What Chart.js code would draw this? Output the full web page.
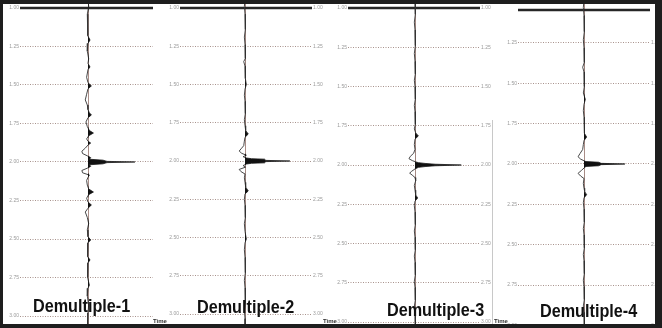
<!DOCTYPE html>
<html>
<head>
<meta charset="utf-8">
<script src="https://cdn.jsdelivr.net/npm/chart.js@4/dist/chart.umd.min.js"></script>
<style>
  html,body{margin:0;padding:0;background:#fff;}
  #wrap{position:relative;width:662px;height:328px;overflow:hidden;background:#fff;}
  canvas{position:absolute;top:0;}
  .ttl{position:absolute;font:bold 18px 'Liberation Sans',Arial,sans-serif;line-height:18px;color:#111;transform:scaleX(0.9);transform-origin:left top;white-space:nowrap;}
  .tm{position:absolute;font:bold 6px 'Liberation Sans',Arial,sans-serif;line-height:6px;color:#333;white-space:nowrap;}
  #frame{position:absolute;left:0;top:0;width:662px;height:328px;box-sizing:border-box;border-top:4px solid #1e1e1e;border-left:3px solid #1e1e1e;border-right:7px solid #1e1e1e;border-bottom:4px solid #1e1e1e;pointer-events:none;}
  #sep{position:absolute;left:492px;top:120px;width:1px;height:204px;background:#c8c8c8;}
</style>
</head>
<body>
<div id="wrap">
  <canvas id="c1"></canvas>
  <canvas id="c2"></canvas>
  <canvas id="c3"></canvas>
  <canvas id="c4"></canvas>
  <div id="sep"></div>
  <div class="ttl" id="t1"></div>
  <div class="ttl" id="t2"></div>
  <div class="ttl" id="t3"></div>
  <div class="ttl" id="t4"></div>
  <div class="tm" style="left:153px;top:318px">Time</div>
  <div class="tm" style="left:323px;top:318px">Time</div>
  <div class="tm" style="left:494px;top:318px">Time</div>
  <div id="frame"></div>
</div>
<script>
// ---------------- DATA ----------------
const panelNames = ['Demultiple-1', 'Demultiple-2', 'Demultiple-3', 'Demultiple-4'];
const tickTimes = [1.00, 1.25, 1.50, 1.75, 2.00, 2.25, 2.50, 2.75, 3.00];
const tickTimes4 = [1.25, 1.50, 1.75, 2.00, 2.25, 2.50, 2.75, 3.00];
const topLineTimes = [1.00, 1.00, 1.00, 1.045];

// [time (s), amplitude] pairs of each autocorrelation trace
const demult1 = [[0.94,0],[0.99,0.01],[1.04,-0.01],[1.09,0],[1.14,-0.01],[1.18,0],[1.208,0.03],[1.23,0],[1.28,-0.01],[1.33,0.01],[1.36,0],[1.383,0.03],[1.40,0],[1.45,-0.02],[1.485,0],[1.506,0.05],[1.525,0],[1.56,-0.02],[1.597,-0.04],[1.63,-0.01],[1.66,0],[1.68,0.02],[1.695,0.05],[1.712,0],[1.74,-0.03],[1.77,-0.01],[1.795,0.02],[1.812,0.08],[1.83,0.01],[1.85,-0.02],[1.865,0],[1.877,0.04],[1.89,0],[1.91,-0.04],[1.93,-0.09],[1.945,-0.08],[1.96,-0.01],[1.972,0.04],[1.982,0.02],[1.988,0.22],[1.996,0.28],[2.0,0.69],[2.004,0.28],[2.012,0.22],[2.018,0.02],[2.028,0.04],[2.04,-0.01],[2.055,-0.09],[2.07,-0.08],[2.085,0.02],[2.10,0],[2.12,-0.02],[2.15,-0.01],[2.175,0.01],[2.195,0.08],[2.212,0.01],[2.235,-0.02],[2.26,0],[2.279,0.05],[2.30,0],[2.325,-0.04],[2.36,-0.01],[2.40,0.01],[2.44,-0.01],[2.485,0],[2.506,0.04],[2.525,0],[2.57,-0.01],[2.615,0],[2.636,0.03],[2.655,0],[2.70,-0.01],[2.75,0],[2.80,0.02],[2.82,0],[2.87,-0.01],[2.93,0.01],[2.98,0],[3.03,-0.01],[3.08,0]];

const demult2 = [[0.94,0],[0.99,-0.01],[1.04,0],[1.09,0.01],[1.14,0],[1.19,-0.01],[1.24,0],[1.29,0.01],[1.33,0],[1.35,-0.02],[1.38,0],[1.42,0.01],[1.46,0],[1.50,0.02],[1.53,0],[1.57,-0.01],[1.61,0],[1.65,0.01],[1.69,0],[1.73,-0.01],[1.77,0],[1.80,0.01],[1.824,0.05],[1.845,0],[1.87,-0.01],[1.90,-0.02],[1.92,-0.06],[1.935,-0.09],[1.95,-0.05],[1.962,0.02],[1.972,-0.03],[1.98,0.02],[1.985,0.1],[1.988,0.3],[1.996,0.32],[2.0,0.69],[2.004,0.32],[2.012,0.3],[2.015,0.1],[2.02,0.02],[2.03,-0.03],[2.04,0.01],[2.055,-0.09],[2.07,-0.06],[2.085,0],[2.11,-0.01],[2.14,0],[2.17,0.01],[2.196,0.05],[2.215,0],[2.25,-0.01],[2.29,0],[2.33,0.01],[2.37,0],[2.41,-0.01],[2.46,0],[2.51,0.02],[2.535,0],[2.58,-0.01],[2.63,0],[2.68,0.01],[2.73,0],[2.78,-0.01],[2.83,0],[2.88,0.01],[2.93,0],[2.98,-0.01],[3.03,0],[3.09,0]];

const demult3 = [[0.94,0],[0.99,0.01],[1.04,0],[1.09,-0.01],[1.14,0],[1.19,0.01],[1.24,0],[1.29,-0.01],[1.34,0],[1.39,0.01],[1.42,0],[1.46,-0.01],[1.50,0],[1.54,0.01],[1.58,0],[1.62,-0.01],[1.66,0],[1.70,0.01],[1.74,0],[1.77,-0.01],[1.795,0.01],[1.815,0.05],[1.835,0],[1.87,-0.01],[1.90,0],[1.925,-0.02],[1.945,-0.07],[1.96,-0.09],[1.972,-0.04],[1.98,0.01],[1.985,0.05],[1.99,0.15],[1.995,0.3],[2.0,0.69],[2.005,0.3],[2.01,0.15],[2.015,0.05],[2.025,0],[2.04,-0.05],[2.052,-0.08],[2.065,-0.04],[2.08,0],[2.10,0.01],[2.13,-0.01],[2.16,0],[2.19,0.01],[2.21,0.04],[2.23,0],[2.26,-0.01],[2.30,0],[2.34,0.01],[2.38,0],[2.42,-0.01],[2.46,0],[2.50,0.01],[2.54,0],[2.58,-0.01],[2.62,0],[2.66,0.01],[2.70,0],[2.74,-0.01],[2.78,0],[2.82,0.01],[2.86,0],[2.90,-0.01],[2.94,0],[2.98,0.01],[3.04,0]];

const demult4 = [[0.98,0],[1.03,-0.01],[1.08,0],[1.13,0.01],[1.18,0],[1.23,-0.01],[1.28,0],[1.33,0.01],[1.37,0],[1.40,-0.02],[1.43,0],[1.48,0.01],[1.52,0],[1.56,-0.01],[1.60,0.02],[1.63,0],[1.67,-0.01],[1.71,0],[1.75,0.01],[1.79,0],[1.81,0.01],[1.833,0.04],[1.855,0],[1.88,-0.01],[1.91,-0.02],[1.935,-0.06],[1.955,-0.09],[1.97,-0.05],[1.98,0],[1.985,0.03],[1.989,0.22],[1.996,0.26],[2.0,0.62],[2.004,0.26],[2.011,0.22],[2.015,0.03],[2.025,0],[2.04,-0.04],[2.058,-0.09],[2.075,-0.05],[2.09,0],[2.12,-0.01],[2.15,0],[2.17,0.01],[2.19,0.04],[2.21,0],[2.24,-0.01],[2.28,0],[2.32,0.01],[2.36,0],[2.40,-0.01],[2.44,0],[2.48,0.01],[2.52,0],[2.56,-0.01],[2.60,0],[2.64,0.01],[2.68,0],[2.72,-0.01],[2.76,0],[2.80,0.01],[2.84,0],[2.88,-0.01],[2.92,0],[2.96,0.01],[3.02,0]];

const traces = [demult1, demult2, demult3, demult4];
const panelTicks = [tickTimes, tickTimes, tickTimes, tickTimes4];

// ---------------- LAYOUT (positions / ranges only) ----------------
const panels = [
  {id:'c1', left:9,   width:144, yMin:0.9481, yMax:3.0779, xMin:-1, xMax:0.956, right:false, tLeft:33,  tTop:297},
  {id:'c2', left:169, width:154, yMin:0.9477, yMax:3.0915, xMin:-1, xMax:1.03,  right:true,  tLeft:197, tTop:298},
  {id:'c3', left:337, width:154, yMin:0.9490, yMax:3.0382, xMin:-1, xMax:0.97,  right:true,  tLeft:387, tTop:301},
  {id:'c4', left:507, width:154, yMin:0.9835, yMax:3.0165, xMin:-1, xMax:1.0,   right:true,  tLeft:540, tTop:302}
];

const panelDecor = {
  id: 'panelDecor',
  beforeDatasetsDraw(chart, args, opts) {
    const ctx = chart.ctx, xs = chart.scales.x, ys = chart.scales.y, a = chart.chartArea;
    ctx.save();
    const cx = Math.round(xs.getPixelForValue(0)) + 0.5;
    ctx.strokeStyle = '#a98e88';
    ctx.lineWidth = 1;
    ctx.beginPath(); ctx.moveTo(cx, 0); ctx.lineTo(cx, chart.height); ctx.stroke();
    const ty = ys.getPixelForValue(opts.topLine);
    ctx.strokeStyle = '#262626';
    ctx.lineWidth = 2.5;
    ctx.beginPath(); ctx.moveTo(a.left, ty); ctx.lineTo(a.right, ty); ctx.stroke();
    ctx.restore();
  }
};

function yAxis(p, ticks, pos, show) {
  return {
    type: 'linear', position: pos, reverse: true, min: p.yMin, max: p.yMax, display: show,
    afterBuildTicks: s => { s.ticks = ticks.map(v => ({value: v})); },
    afterFit: s => { if (show) { s.width = 11; } s.paddingTop = 0; s.paddingBottom = 0; },
    grid: {display: pos === 'left', color: '#a8938d', lineWidth: 1, drawTicks: false},
    border: {display: false, dash: [1, 1.5]},
    ticks: {font: {size: 5, family: 'Liberation Sans'}, color: '#9a9a9a', padding: 1, autoSkip: false,
            callback: v => Number(v).toFixed(2)}
  };
}

panels.forEach((p, i) => {
  const cv = document.getElementById(p.id);
  cv.width = p.width; cv.height = 328;
  cv.style.left = p.left + 'px';
  cv.style.width = p.width + 'px'; cv.style.height = '328px';
  const tr = traces[i];
  const tl = document.getElementById('t' + (i + 1));
  tl.textContent = panelNames[i];
  tl.style.left = p.tLeft + 'px'; tl.style.top = p.tTop + 'px';
  new Chart(cv, {
    type: 'line',
    data: {
      datasets: [
        { data: tr.map(([t, a]) => ({x: Math.max(a, 0), y: t})), borderWidth: 0, pointRadius: 0,
          backgroundColor: '#111', fill: 'origin', tension: 0, yAxisID: 'y' },
        { data: tr.map(([t, a]) => ({x: a, y: t})), borderColor: '#333', borderWidth: 0.9, pointRadius: 0,
          fill: false, tension: 0, yAxisID: 'y' }
      ]
    },
    options: {
      indexAxis: 'y',
      responsive: false, animation: false, events: [],
      layout: {padding: 0},
      scales: {
        x: {type: 'linear', min: p.xMin, max: p.xMax, display: false},
        y: yAxis(p, panelTicks[i], 'left', true),
        y2: yAxis(p, panelTicks[i], 'right', p.right)
      },
      plugins: {legend: {display: false}, tooltip: {enabled: false}, title: {display: false},
                panelDecor: {topLine: topLineTimes[i]}}
    },
    plugins: [panelDecor]
  });
});
</script>
</body>
</html>
